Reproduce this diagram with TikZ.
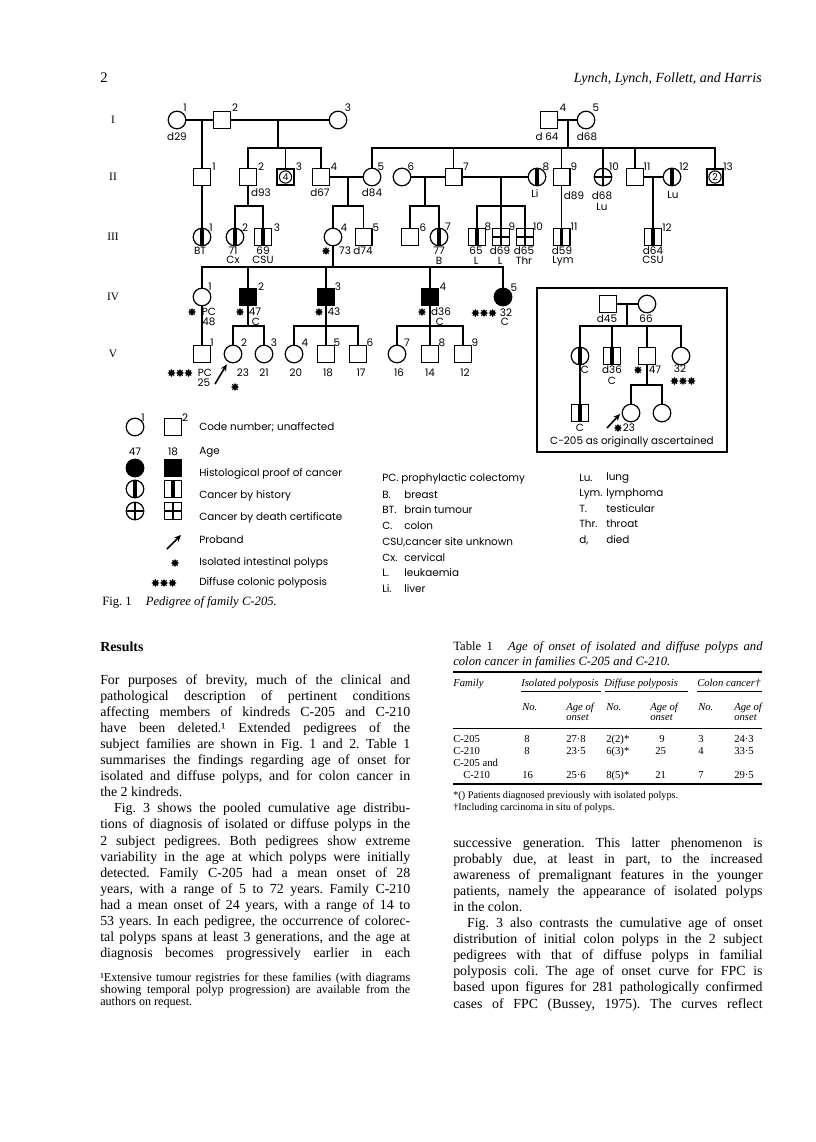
\documentclass[tikz,border=0pt]{standalone}
\usepackage{fontspec}
\setmainfont{Liberation Serif}
\newfontfamily\pf{Poppins}
\usetikzlibrary{arrows.meta,shapes.geometric}
\frenchspacing
\newcommand\jl[1]{\makebox[\linewidth][s]{#1}\\}
\tikzset{
  pl/.style={line width=0.9pt},
  ind/.style={draw, line width=0.9pt, inner sep=0pt},
  sq/.style={ind, rectangle, minimum size=12.6pt},
  ci/.style={ind, circle, minimum size=13.2pt},
  aff/.style={fill=black},
  hist/.style={path picture={\fill ([xshift=-1.3pt]path picture bounding box.north) rectangle ([xshift=1.3pt]path picture bounding box.south);}},
  dc/.style={path picture={\draw[line width=2pt] (path picture bounding box.north) -- (path picture bounding box.south) (path picture bounding box.west) -- (path picture bounding box.east);}},
  multi/.style={sq, line width=1.5pt, font=\pf\fontsize{7}{8}\selectfont, path picture={\draw[line width=0.8pt] (path picture bounding box.center) circle (4.6pt);}},
  lab/.style={font=\pf\fontsize{7.8}{8.5}\selectfont, inner sep=0pt},
  pol/.style={star, star points=8, star point ratio=1.7, fill=black, draw=none, inner sep=0pt, minimum size=6.2pt},
  gen/.style={font=\fontsize{8.5}{10}\selectfont, inner sep=0pt},
  leg/.style={lab, anchor=west},
  proband/.style={line width=1.2pt, -{Stealth[length=5pt,width=4.5pt]}},
  body/.style={font=\fontsize{10.4}{12.1}\selectfont, inner sep=0pt, anchor=base west},
  rule/.style={line width=0.5pt},
  trule/.style={line width=1.3pt},
  tab/.style={font=\fontsize{8}{9.5}\selectfont, inner sep=0pt, anchor=base west},
  tabh/.style={tab, font=\itshape\fontsize{8}{9.5}\selectfont},
}
\newcommand\lb[4]{\node[lab] (#1) at (#2,#3) {#4};}
\newcommand\polA[3]{\node[pol] (#1) at (#2,#3) {};}
\newcommand\polC[3]{\node[pol] (#1a) at ({#2-8.5},#3) {}; \node[pol] (#1b) at (#2,#3) {}; \node[pol] (#1c) at ({#2+8.5},#3) {};}
\begin{document}
\begin{tikzpicture}[x=0.75pt,y=-0.75pt]
\useasboundingbox (0,0) rectangle (816,1142);
\fill[white] (0,0) rectangle (816,1142);

% header
\node[font=\fontsize{11}{13}\selectfont, anchor=base west, inner sep=0pt] (pg) at (100,82) {2};
\node[font=\itshape\fontsize{10.5}{13}\selectfont, anchor=base east, inner sep=0pt] (hd) at (762,82) {Lynch, Lynch, Follett, and Harris};

% generation numerals
\node[gen] (gI) at (113,120) {I};
\node[gen] (gII) at (113,177) {II};
\node[gen] (gIII) at (113,237) {III};
\node[gen] (gIV) at (113,297) {IV};
\node[gen] (gV) at (113,354) {V};

% ---------- Generation I
\node[ci] (I1) at (177,120) {};
\node[sq] (I2) at (222,120) {};
\node[ci] (I3) at (338,120) {};
\node[sq] (I4) at (549,120) {};
\node[ci] (I5) at (586,120) {};
% ---------- Generation II
\node[sq] (II1) at (202,177) {};
\node[sq] (II2) at (248,177) {};
\node[multi] (II3) at (285.5,177) {4};
\node[sq] (II4) at (321,177) {};
\node[ci] (II5) at (372,177) {};
\node[ci] (II6) at (402,177) {};
\node[sq] (II7) at (453.5,177) {};
\node[ci,hist] (II8) at (537,177) {};
\node[sq] (II9) at (561.5,177) {};
\node[ci,dc] (II10) at (603,177) {};
\node[sq] (II11) at (635,177) {};
\node[ci,hist] (II12) at (672,177) {};
\node[multi] (II13) at (715,177) {2};
% ---------- Generation III
\node[ci,hist] (III1) at (202,237) {};
\node[ci,hist] (III2) at (235,237) {};
\node[sq,hist] (III3) at (263,237) {};
\node[ci] (III4) at (333,237) {};
\node[sq] (III5) at (363.5,237) {};
\node[sq] (III6) at (410,237) {};
\node[ci,hist] (III7) at (439,237) {};
\node[sq,hist] (III8) at (477,237) {};
\node[sq,dc] (III9) at (501,237) {};
\node[sq,dc] (III10) at (525,237) {};
\node[sq,hist] (III11) at (561.5,237) {};
\node[sq,hist] (III12) at (653,237) {};
% ---------- Generation IV
\node[ci] (IV1) at (202,297) {};
\node[sq,aff] (IV2) at (248,297) {};
\node[sq,aff] (IV3) at (326,297) {};
\node[sq,aff] (IV4) at (430,297) {};
\node[ci,aff] (IV5) at (503,297) {};
% ---------- Generation V
\node[sq] (V1) at (202,354) {};
\node[ci] (V2) at (233,354) {};
\node[ci] (V3) at (264,354) {};
\node[ci] (V4) at (294,354) {};
\node[sq] (V5) at (326,354) {};
\node[sq] (V6) at (358,354) {};
\node[ci] (V7) at (397,354) {};
\node[sq] (V8) at (430,354) {};
\node[sq] (V9) at (463,354) {};

% ---------- junction coordinates
\coordinate (m12) at (202,120);
\coordinate (m23) at (278,120);
\coordinate (s23) at (278,148);
\coordinate (m45) at (568,120);
\coordinate (s45) at (568,148);
\coordinate (m45b) at (348,177);
\coordinate (s45b) at (348,206);
\coordinate (m67) at (425,177);
\coordinate (s67) at (425,206);
\coordinate (m78) at (501,177);
\coordinate (s78) at (501,206);
\coordinate (m1112) at (653,177);
\coordinate (s2) at (248,206);
\coordinate (g4) at (333,267);
\coordinate (s42) at (248,326);
\coordinate (s43) at (326,326);
\coordinate (s44) at (430,326);

% ---------- connectors
\draw[pl] (I1) -- (I2);
\draw[pl] (I2) -- (I3);
\draw[pl] (I4) -- (I5);
\draw[pl] (m12) -- (II1);
\draw[pl] (m23) -- (s23);
\draw[pl] (II2) |- (s23) -| (II4);
\draw[pl] (II3) -- (II3 |- s23);
\draw[pl] (m45) -- (s45);
\draw[pl] (II5) |- (s45) -| (II13);
\draw[pl] (II7) -- (II7 |- s45);
\draw[pl] (II9) -- (II9 |- s45);
\draw[pl] (II10) -- (II10 |- s45);
\draw[pl] (II11) -- (II11 |- s45);

\draw[pl] (II4) -- (II5);
\draw[pl] (m45b) -- (s45b);
\draw[pl] (III4) |- (s45b) -| (III5);
\draw[pl] (II6) -- (II7);
\draw[pl] (m67) -- (s67);
\draw[pl] (III6) |- (s67) -| (III7);
\draw[pl] (II7) -- (II8);
\draw[pl] (m78) -- (III9);
\draw[pl] (III8) |- (s78) -| (III10);
\draw[pl] (II11) -- (II12);
\draw[pl] (m1112) -- (III12);
\draw[pl] (II9) -- (III11);
\draw[pl] (II1) -- (III1);
\draw[pl] (II2) -- (s2);
\draw[pl] (III2) |- (s2) -| (III3);

\draw[pl] (III4) -- (g4);
\draw[pl] (IV1) |- (g4) -| (IV5);
\draw[pl] (IV2) -- (IV2 |- g4);
\draw[pl] (IV3) -- (IV3 |- g4);
\draw[pl] (IV4) -- (IV4 |- g4);

\draw[pl] (IV1) -- (V1);
\draw[pl] (IV2) -- (s42);
\draw[pl] (V2) |- (s42) -| (V3);
\draw[pl] (IV3) -- (V5);
\draw[pl] (V4) |- (s43) -| (V6);
\draw[pl] (IV4) -- (V8);
\draw[pl] (V7) |- (s44) -| (V9);

\coordinate (pa) at (215,384);
\draw[proband, shorten >=2pt] (pa) -- (V2);

% ---------- labels gen I
\lb{tI1}{185}{108}{1} \lb{dI1}{177}{137}{d29}
\lb{tI2}{235}{108}{2}
\lb{tI3}{348}{108}{3}
\lb{tI4}{563}{108}{4} \lb{dI4}{547}{137}{d 64}
\lb{tI5}{596}{108}{5} \lb{dI5}{587}{137}{d68}
% gen II
\lb{tII1}{214}{167}{1}
\lb{tII2}{261}{167}{2} \lb{dII2}{261}{193}{d93}
\lb{tII3}{299}{167}{3}
\lb{tII4}{334}{167}{4} \lb{dII4}{320}{193}{d67}
\lb{tII5}{381}{167}{5} \lb{dII5}{372}{193}{d84}
\lb{tII6}{411}{167}{6}
\lb{tII7}{466}{167}{7}
\lb{tII8}{546}{167}{8} \lb{dII8}{535}{194}{Li}
\lb{tII9}{574}{167}{9} \lb{dII9}{574}{196}{d89}
\lb{tII10}{614}{167}{10} \lb{dII10}{602}{196}{d68} \lb{eII10}{602}{207}{Lu}
\lb{tII11}{647}{167}{11}
\lb{tII12}{684}{167}{12} \lb{dII12}{673}{195}{Lu}
\lb{tII13}{728}{167}{13}
% gen III
\lb{tIII1}{211}{228}{1} \lb{dIII1}{200}{251}{BT}
\lb{tIII2}{245}{228}{2} \lb{dIII2}{233}{251}{71} \lb{eIII2}{233}{260}{Cx}
\lb{tIII3}{277}{228}{3} \lb{dIII3}{263}{251}{69} \lb{eIII3}{263}{260}{CSU}
\lb{tIII4}{344}{228}{4} \polA{pIII4}{326}{251} \lb{dIII4}{345}{251}{73}
\lb{tIII5}{376}{228}{5} \lb{dIII5}{363}{251}{d74}
\lb{tIII6}{423}{228}{6}
\lb{tIII7}{448}{227}{7} \lb{dIII7}{439}{251}{77} \lb{eIII7}{439}{261}{B}
\lb{tIII8}{488}{227}{8} \lb{dIII8}{476}{251}{65} \lb{eIII8}{476}{261}{L}
\lb{tIII9}{512}{227}{9} \lb{dIII9}{500}{251}{d69} \lb{eIII9}{500}{261}{L}
\lb{tIII10}{538}{227}{10} \lb{dIII10}{524}{251}{d65} \lb{eIII10}{524}{261}{Thr}
\lb{tIII11}{574}{227}{11} \lb{dIII11}{562}{251}{d59} \lb{eIII11}{563}{261}{Lym}
\lb{tIII12}{667}{228}{12} \lb{dIII12}{653}{251}{d64} \lb{eIII12}{653}{260}{CSU}
% gen IV
\lb{tIV1}{210}{287}{1} \polA{pIV1}{192}{312} \lb{dIV1}{209}{312}{PC} \lb{eIV1}{209}{322}{48}
\lb{tIV2}{261}{287}{2} \polA{pIV2}{240}{312} \lb{dIV2}{255}{312}{47} \lb{eIV2}{256}{322}{C}
\lb{tIV3}{338}{287}{3} \polA{pIV3}{319}{312} \lb{dIV3}{334}{312}{43}
\lb{tIV4}{443}{287}{4} \polA{pIV4}{422}{312} \lb{dIV4}{441}{312}{d36} \lb{eIV4}{440}{322}{C}
\lb{tIV5}{514}{288}{5} \polC{pIV5}{484}{313} \lb{dIV5}{506}{313}{32} \lb{eIV5}{505}{322}{C}
% gen V
\lb{tV1}{212}{343}{1} \polC{pV1}{180}{373} \lb{dV1}{205}{373}{PC} \lb{eV1}{204}{383}{25}
\lb{tV2}{244}{343}{2} \lb{dV2}{243}{373}{23} \polA{pV2}{235}{387}
\lb{tV3}{274}{343}{3} \lb{dV3}{264}{373}{21}
\lb{tV4}{305}{343}{4} \lb{dV4}{296}{373}{20}
\lb{tV5}{337}{343}{5} \lb{dV5}{328}{373}{18}
\lb{tV6}{370}{343}{6} \lb{dV6}{361}{373}{17}
\lb{tV7}{407}{343}{7} \lb{dV7}{399}{373}{16}
\lb{tV8}{442}{343}{8} \lb{dV8}{430}{373}{14}
\lb{tV9}{475}{343}{9} \lb{dV9}{465}{373}{12}

% ---------- inset
\node[draw, line width=2pt, minimum width=142.5pt, minimum height=123pt, inner sep=0pt] (inset) at (632,370) {};
\node[sq] (A1) at (608,304) {};
\node[ci] (A2) at (647,304) {};
\node[ci,hist] (B1) at (580,356) {};
\node[sq,hist] (B2) at (612,356) {};
\node[sq] (B3) at (647,356) {};
\node[ci] (B4) at (681,356) {};
\node[sq,hist] (C1) at (580,413) {};
\node[ci] (C2) at (631,413) {};
\node[ci] (C3) at (662,413) {};
\coordinate (mA) at (627,304);
\coordinate (sA) at (627,326);
\coordinate (sB) at (647,385);
\draw[pl] (A1) -- (A2);
\draw[pl] (mA) -- (sA);
\draw[pl] (B1) |- (sA) -| (B4);
\draw[pl] (B2) -- (B2 |- sA);
\draw[pl] (B3) -- (B3 |- sA);
\draw[pl] (B1) -- (C1);
\draw[pl] (B3) -- (sB);
\draw[pl] (C2) |- (sB) -| (C3);
\coordinate (ia1) at (607,428);
\coordinate (ia2) at (620,414);
\draw[proband] (ia1) -- (ia2);
\lb{dA1}{607}{319}{d45} \lb{dA2}{646}{319}{66}
\lb{dB1}{585}{370}{C}
\lb{dB2}{612}{370}{d36} \lb{eB2}{612}{381}{C}
\polA{pB3}{638}{370} \lb{dB3}{655}{370}{47}
\lb{dB4}{680}{369}{32} \polC{pB4}{683}{381}
\lb{dC1}{580}{428}{C}
\polA{pC2}{618}{428} \lb{dC2}{629}{428}{23}
\lb{cap}{632}{442}{C-205 as originally ascertained}

% ---------- legend
\node[ci] (Lc1) at (135,427) {}; \lb{Lc1n}{143}{418}{1}
\node[sq] (Ls1) at (173,427) {}; \lb{Ls1n}{185}{418}{2}
\node[leg] (Lt1) at (199,427) {Code number; unaffected};
\lb{La1}{135}{452}{47} \lb{La2}{173}{452}{18}
\node[leg] (Lt2) at (199,452) {Age};
\node[ci,aff] (Lc3) at (135,468) {}; \node[sq,aff] (Ls3) at (173,468) {};
\node[leg] (Lt3) at (199,474) {Histological proof of cancer};
\node[ci,hist] (Lc4) at (135,489) {}; \node[sq,hist] (Ls4) at (173,489) {};
\node[leg] (Lt4) at (199,496) {Cancer by history};
\node[ci,dc] (Lc5) at (135,511) {}; \node[sq,dc] (Ls5) at (173,511) {};
\node[leg] (Lt5) at (199,518) {Cancer by death certificate};
\coordinate (La) at (167,549); \coordinate (Lb) at (181,535);
\draw[proband] (La) -- (Lb);
\node[leg] (Lt6) at (199,540) {Proband};
\polA{Lp1}{175}{563}
\node[leg] (Lt7) at (199,563) {Isolated intestinal polyps};
\polC{Lp3}{164}{583}
\node[leg] (Lt8) at (199,583) {Diffuse colonic polyposis};

\node[leg] (Ab1) at (382,479) {PC. prophylactic colectomy};
\node[leg] (Ab2) at (382,495) {B.}; \node[leg] (Ex2) at (404,495) {breast};
\node[leg] (Ab3) at (382,510) {BT.}; \node[leg] (Ex3) at (404,510) {brain tumour};
\node[leg] (Ab4) at (382,526) {C.}; \node[leg] (Ex4) at (404,526) {colon};
\node[leg] (Ab5) at (382,542) {CSU,cancer site unknown};
\node[leg] (Ab6) at (382,558) {Cx.}; \node[leg] (Ex6) at (404,558) {cervical};
\node[leg] (Ab7) at (382,573) {L.}; \node[leg] (Ex7) at (404,573) {leukaemia};
\node[leg] (Ab8) at (382,589) {Li.}; \node[leg] (Ex8) at (404,589) {liver};

\node[leg] (Ac1) at (579,478) {Lu.}; \node[leg] (Ey1) at (606,478) {lung};
\node[leg] (Ac2) at (579,494) {Lym.}; \node[leg] (Ey2) at (606,494) {lymphoma};
\node[leg] (Ac3) at (579,509) {T.}; \node[leg] (Ey3) at (606,509) {testicular};
\node[leg] (Ac4) at (579,524) {Thr.}; \node[leg] (Ey4) at (606,524) {throat};
\node[leg] (Ac5) at (579,540) {d,}; \node[leg] (Ey5) at (606,540) {died};

\node[font=\fontsize{9.5}{11}\selectfont, anchor=base west, inner sep=0pt] (fig) at (102,605) {Fig. 1\hspace{1.1em}\textit{Pedigree of family C-205.}};

% ---------- left column
\node[font=\bfseries\fontsize{10.4}{12}\selectfont, anchor=base west, inner sep=0pt] (res) at (100,651) {Results};
\node[body] (p1) at (100,684) {\parbox[t]{232.5pt}{\baselineskip=12.08pt
\jl{For purposes of brevity, much of the clinical and}
\jl{pathological description of pertinent conditions}
\jl{affecting members of kindreds C-205 and C-210}
\jl{have been deleted.¹ Extended pedigrees of the}
\jl{subject families are shown in Fig. 1 and 2. Table 1}
\jl{summarises the findings regarding age of onset for}
\jl{isolated and diffuse polyps, and for colon cancer in}
the 2 kindreds.\\
\jl{\hspace*{1em}Fig. 3 shows the pooled cumulative age distribu-}
\jl{tions of diagnosis of isolated or diffuse polyps in the}
\jl{2 subject pedigrees. Both pedigrees show extreme}
\jl{variability in the age at which polyps were initially}
\jl{detected. Family C-205 had a mean onset of 28}
\jl{years, with a range of 5 to 72 years. Family C-210}
\jl{had a mean onset of 24 years, with a range of 14 to}
\jl{53 years. In each pedigree, the occurrence of colorec-}
\jl{tal polyps spans at least 3 generations, and the age at}
\makebox[\linewidth][s]{diagnosis becomes progressively earlier in each}}};
\node[font=\fontsize{9.1}{9.3}\selectfont, anchor=base west, inner sep=0pt] (fn) at (100,981) {\parbox[t]{232.5pt}{\baselineskip=9.3pt
\jl{¹Extensive tumour registries for these families (with diagrams}
\jl{showing temporal polyp progression) are available from the}
authors on request.}};

% ---------- table
\node[font=\fontsize{9.5}{11}\selectfont, anchor=base west, inner sep=0pt] (tcap) at (453,650) {\parbox[t]{232pt}{\baselineskip=11.3pt
\jl{Table 1\hspace{1.2em}\textit{Age of onset of isolated and diffuse polyps and}}
\textit{colon cancer in families C-205 and C-210.}}};
\coordinate (r1a) at (453,672); \coordinate (r1b) at (762,672);
\draw[trule] (r1a) -- (r1b);
\node[tabh] (h1) at (453,686) {Family};
\node[tabh] (h2) at (521,686) {Isolated polyposis};
\node[tabh] (h3) at (604,686) {Diffuse polyposis};
\node[tabh] (h4) at (697,686) {Colon cancer†};
\coordinate (r2a) at (521,691); \coordinate (r2b) at (601,691);
\coordinate (r3a) at (605,691); \coordinate (r3b) at (688,691);
\coordinate (r4a) at (697,691); \coordinate (r4b) at (762,691);
\draw[rule] (r2a) -- (r2b); \draw[rule] (r3a) -- (r3b); \draw[rule] (r4a) -- (r4b);
\node[tabh] (k1) at (522,710) {No.};
\node[tabh] (k2) at (566,710) {Age of};
\node[tabh] (k2b) at (566,720) {onset};
\node[tabh] (k3) at (606,710) {No.};
\node[tabh] (k4) at (650,710) {Age of};
\node[tabh] (k4b) at (650,720) {onset};
\node[tabh] (k5) at (698,710) {No.};
\node[tabh] (k6) at (734,710) {Age of};
\node[tabh] (k6b) at (734,720) {onset};
\coordinate (r5a) at (453,728); \coordinate (r5b) at (762,728);
\draw[rule] (r5a) -- (r5b);
\node[tab] (f1) at (453,742) {C-205};
\node[tab] (f1a) at (524,742) {8};
\node[tab] (f1b) at (566,742) {27·8};
\node[tab] (f1c) at (606,742) {2(2)*};
\node[tab] (f1d) at (659,742) {9};
\node[tab] (f1e) at (698,742) {3};
\node[tab] (f1f) at (734,742) {24·3};
\node[tab] (f2) at (453,754) {C-210};
\node[tab] (f2a) at (524,754) {8};
\node[tab] (f2b) at (566,754) {23·5};
\node[tab] (f2c) at (606,754) {6(3)*};
\node[tab] (f2d) at (655,754) {25};
\node[tab] (f2e) at (698,754) {4};
\node[tab] (f2f) at (734,754) {33·5};
\node[tab] (f3) at (453,766) {C-205 and};
\node[tab] (f4) at (463,778) {C-210};
\node[tab] (f4a) at (522,778) {16};
\node[tab] (f4b) at (566,778) {25·6};
\node[tab] (f4c) at (606,778) {8(5)*};
\node[tab] (f4d) at (655,778) {21};
\node[tab] (f4e) at (698,778) {7};
\node[tab] (f4f) at (734,778) {29·5};
\coordinate (r6a) at (453,784); \coordinate (r6b) at (762,784);
\draw[trule] (r6a) -- (r6b);
\node[tab, font=\fontsize{7.7}{9}\selectfont] (tn1) at (453,798) {*() Patients diagnosed previously with isolated polyps.};
\node[tab, font=\fontsize{7.7}{9}\selectfont] (tn2) at (453,810) {†Including carcinoma in situ of polyps.};

% ---------- right column
\node[body] (p2) at (453,847) {\parbox[t]{232pt}{\baselineskip=12.08pt
\jl{successive generation. This latter phenomenon is}
\jl{probably due, at least in part, to the increased}
\jl{awareness of premalignant features in the younger}
\jl{patients, namely the appearance of isolated polyps}
in the colon.\\
\jl{\hspace*{1em}Fig. 3 also contrasts the cumulative age of onset}
\jl{distribution of initial colon polyps in the 2 subject}
\jl{pedigrees with that of diffuse polyps in familial}
\jl{polyposis coli. The age of onset curve for FPC is}
\jl{based upon figures for 281 pathologically confirmed}
\makebox[\linewidth][s]{cases of FPC (Bussey, 1975). The curves reflect}}};
\end{tikzpicture}
\end{document}
